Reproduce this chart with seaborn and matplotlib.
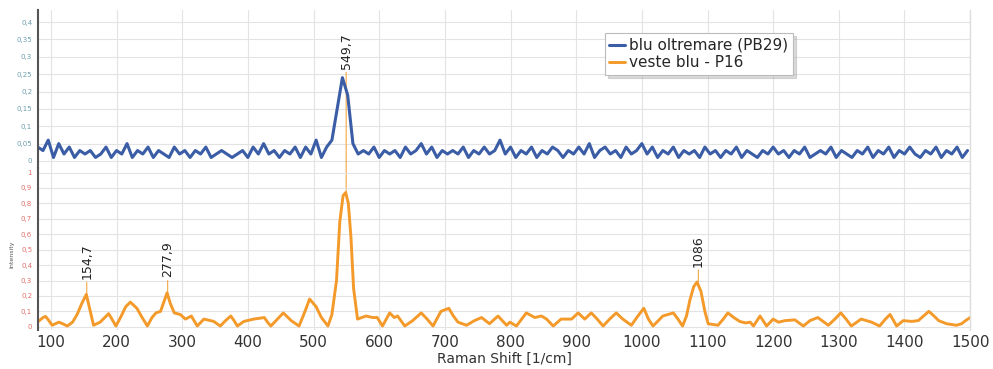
import numpy as np
import pandas as pd
import matplotlib
matplotlib.use("Agg")
import matplotlib.pyplot as plt
import seaborn as sns

# blue reference spectrum (sampled every 8 cm-1 from 80)
blue_shift = np.arange(80, 1500, 8)
blue_intensity = [
    0.04, 0.03, 0.06, 0.01, 0.05, 0.02, 0.04, 0.01, 0.03, 0.02,
    0.03, 0.01, 0.02, 0.04, 0.01, 0.03, 0.02, 0.05, 0.01, 0.03,
    0.02, 0.04, 0.01, 0.03, 0.02, 0.01, 0.04, 0.02, 0.03, 0.01,
    0.03, 0.02, 0.04, 0.01, 0.02, 0.03, 0.02, 0.01, 0.02, 0.03,
    0.01, 0.04, 0.02, 0.05, 0.02, 0.03, 0.01, 0.03, 0.02, 0.04,
    0.01, 0.04, 0.02, 0.06, 0.01, 0.04, 0.06, 0.15, 0.24, 0.19,
    0.05, 0.02, 0.03, 0.02, 0.04, 0.01, 0.03, 0.02, 0.03, 0.01,
    0.04, 0.02, 0.03, 0.05, 0.02, 0.04, 0.01, 0.03, 0.02, 0.03,
    0.02, 0.04, 0.01, 0.03, 0.02, 0.04, 0.02, 0.03, 0.06, 0.02,
    0.04, 0.01, 0.03, 0.02, 0.04, 0.01, 0.03, 0.02, 0.04, 0.03,
    0.01, 0.03, 0.02, 0.04, 0.02, 0.05, 0.01, 0.03, 0.04, 0.02,
    0.03, 0.01, 0.04, 0.02, 0.03, 0.05, 0.02, 0.04, 0.01, 0.03,
    0.02, 0.04, 0.01, 0.03, 0.02, 0.03, 0.01, 0.04, 0.02, 0.03,
    0.01, 0.03, 0.02, 0.04, 0.01, 0.03, 0.02, 0.01, 0.03, 0.02,
    0.04, 0.02, 0.03, 0.01, 0.03, 0.02, 0.04, 0.01, 0.02, 0.03,
    0.02, 0.04, 0.01, 0.03, 0.02, 0.01, 0.03, 0.02, 0.04, 0.01,
    0.03, 0.02, 0.04, 0.01, 0.03, 0.02, 0.04, 0.02, 0.01, 0.03,
    0.02, 0.04, 0.01, 0.03, 0.02, 0.04, 0.01, 0.03,
]

# orange sample spectrum
orange_shift = [
    81, 88, 92, 97, 102, 112, 118, 125, 133, 140,
    147, 154, 160, 165, 175, 182, 188, 193, 199, 206,
    214, 221, 231, 239, 247, 254, 260, 267, 272, 277,
    282, 288, 297, 305, 314, 318, 323, 333, 348, 358,
    366, 374, 379, 384, 394, 409, 425, 430, 435, 445,
    454, 466, 478, 487, 494, 504, 512, 522, 528, 535,
    540, 545, 549, 553, 557, 561, 567, 580, 590, 597,
    605, 616, 623, 628, 639, 651, 664, 673, 682, 694,
    706, 713, 720, 733, 745, 756, 768, 781, 794, 799,
    809, 817, 824, 837, 847, 855, 865, 877, 893, 903,
    913, 923, 932, 941, 951, 961, 971, 984, 994, 1003,
    1010, 1017, 1032, 1048, 1055, 1062, 1068, 1073, 1079, 1084,
    1090, 1096, 1101, 1116, 1124, 1131, 1140, 1149, 1158, 1165,
    1170, 1180, 1190, 1200, 1208, 1218, 1233, 1246, 1256, 1268,
    1284, 1294, 1303, 1311, 1319, 1334, 1350, 1362, 1371, 1378,
    1388, 1398, 1411, 1421, 1429, 1437, 1445, 1452, 1464, 1479,
    1487, 1493, 1500,
]
orange_intensity = [
    0.035, 0.06, 0.067, 0.04, 0.01, 0.03, 0.02, 0.005, 0.03, 0.08,
    0.15, 0.21, 0.10, 0.01, 0.03, 0.06, 0.085, 0.05, 0.005, 0.06,
    0.13, 0.16, 0.12, 0.06, 0.005, 0.06, 0.09, 0.10, 0.16, 0.22,
    0.15, 0.09, 0.08, 0.05, 0.07, 0.04, 0.005, 0.05, 0.035, 0.005,
    0.04, 0.07, 0.04, 0.005, 0.035, 0.05, 0.06, 0.03, 0.005, 0.05,
    0.09, 0.04, 0.005, 0.10, 0.18, 0.13, 0.06, 0.005, 0.08, 0.30,
    0.68, 0.85, 0.87, 0.80, 0.58, 0.25, 0.05, 0.07, 0.06, 0.06,
    0.005, 0.09, 0.06, 0.07, 0.005, 0.04, 0.09, 0.05, 0.005, 0.10,
    0.12, 0.07, 0.03, 0.01, 0.04, 0.06, 0.02, 0.07, 0.01, 0.03,
    0.005, 0.05, 0.09, 0.06, 0.07, 0.05, 0.005, 0.05, 0.05, 0.09,
    0.05, 0.09, 0.05, 0.005, 0.05, 0.09, 0.05, 0.01, 0.07, 0.12,
    0.05, 0.005, 0.07, 0.09, 0.05, 0.005, 0.07, 0.17, 0.26, 0.29,
    0.23, 0.10, 0.02, 0.01, 0.05, 0.09, 0.06, 0.035, 0.025, 0.03,
    0.005, 0.07, 0.005, 0.05, 0.03, 0.04, 0.045, 0.005, 0.04, 0.06,
    0.01, 0.05, 0.09, 0.05, 0.005, 0.05, 0.03, 0.005, 0.05, 0.08,
    0.005, 0.04, 0.035, 0.04, 0.07, 0.10, 0.07, 0.04, 0.02, 0.01,
    0.02, 0.04, 0.06,
]

peak_shift = [154.7, 277.9, 549.7, 1086]
peak_label = ["154,7", "277,9", "549,7", "1086"]
peak_height = [0.21, 0.22, 0.87, 0.29]

blue = "#3a5da6"
orange = "#f39a2a"

sns.set_style("whitegrid", {"grid.color": "#e3e3e3"})
plt.rcParams["font.family"] = ["DejaVu Sans"]

blue_df = pd.DataFrame({"shift": blue_shift, "intensity": blue_intensity})
orange_df = pd.DataFrame({"shift": orange_shift, "intensity": orange_intensity})

fig = plt.figure(figsize=(9.93, 3.69), dpi=100)
ax_top = fig.add_axes([0.038, 0.545, 0.939, 0.428])
ax_bot = fig.add_axes([0.038, 0.106, 0.939, 0.439])

sns.lineplot(data=blue_df, x="shift", y="intensity", ax=ax_top, color=blue,
             lw=2.2, label="blu oltremare (PB29)")
sns.lineplot(data=orange_df, x="shift", y="intensity", ax=ax_bot, color=orange,
             lw=2.1, label="veste blu - P16")

for ax in (ax_top, ax_bot):
    ax.set_facecolor("none")
    ax.set_xlim(80, 1500)
    ax.set_xticks(range(100, 1501, 100))
    for side in ("top", "bottom", "right"):
        ax.spines[side].set_visible(False)
    ax.spines["left"].set_color("#555555")
    ax.spines["left"].set_linewidth(1.5)
    ax.tick_params(axis="y", length=3, width=0.6, color="#777777", labelsize=5, pad=1)
    ax.set_ylabel("")
    ax.set_xlabel("")

ax_top.set_ylim(-0.02, 0.435)
ax_top.set_yticks(np.arange(0, 0.41, 0.05))
ax_top.set_yticklabels(["0", "0,05", "0,1", "0,15", "0,2", "0,25", "0,3", "0,35", "0,4"])
ax_top.tick_params(axis="y", labelcolor="#6b9fb0")
ax_top.tick_params(axis="x", labelbottom=False, length=0)

ax_bot.set_ylim(-0.02, 1.03)
ax_bot.set_yticks(np.arange(0, 1.01, 0.1))
ax_bot.set_yticklabels(["0", "0,1", "0,2", "0,3", "0,4", "0,5", "0,6", "0,7", "0,8", "0,9", "1"])
ax_bot.tick_params(axis="y", labelcolor="#e0706a")
ax_bot.tick_params(axis="x", labelsize=11, labelcolor="#333333", length=0, pad=4)
ax_bot.set_xlabel("Raman Shift [1/cm]", fontsize=10, color="#333333", labelpad=1)
fig.text(0.012, 0.31, "Intensity", rotation=90, fontsize=4.5, color="#555555",
         ha="center", va="center")
fig.add_artist(plt.Line2D([0.977, 0.977], [0.106, 0.973], color="#dddddd", lw=1))

# peak annotations
for x, lab, h in zip(peak_shift, peak_label, peak_height):
    if lab == "549,7":
        ax_top.annotate(lab, xy=(x, h), xycoords=ax_bot.transData,
                        xytext=(x, 0.265), textcoords="data", rotation=90,
                        ha="center", va="bottom", fontsize=9, color="#222222",
                        arrowprops=dict(arrowstyle="-", color=orange, lw=0.7,
                                        shrinkA=0, shrinkB=0), zorder=1)
    else:
        ax_bot.annotate(lab, xy=(x, h), xytext=(x, h + 0.1), textcoords="data",
                        rotation=90, ha="center", va="bottom", fontsize=9,
                        color="#222222",
                        arrowprops=dict(arrowstyle="-", color=orange, lw=0.7,
                                        shrinkA=0, shrinkB=0))

h1, l1 = ax_top.get_legend_handles_labels()
h2, l2 = ax_bot.get_legend_handles_labels()
ax_bot.get_legend().remove()
ax_top.get_legend().remove()
leg = ax_top.legend(h1 + h2, l1 + l2, loc="upper left", bbox_to_anchor=(0.6, 0.9),
                    fontsize=11, frameon=True, fancybox=False,
                    shadow={"color": "#999999", "alpha": 0.35},
                    handlelength=1.0, handletextpad=0.3, borderpad=0.3,
                    labelspacing=0.15)
leg.get_frame().set_edgecolor("#bbbbbb")
leg.get_frame().set_linewidth(0.8)

fig.savefig("out.png", dpi=100, facecolor="white")
